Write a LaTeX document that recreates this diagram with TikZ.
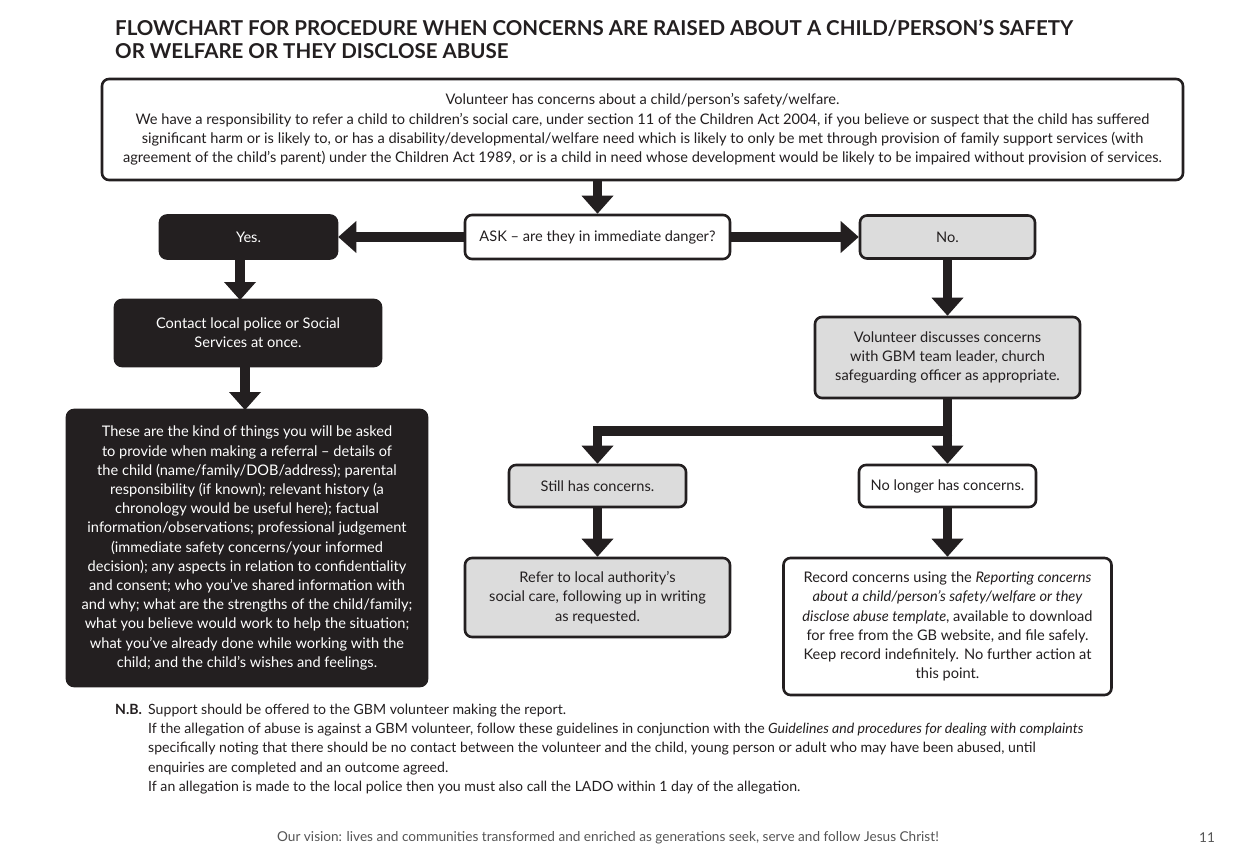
\documentclass[tikz,border=0pt]{standalone}
\usepackage{fontspec}
\setmainfont{Lato}
\definecolor{ink}{HTML}{231F20}
\definecolor{boxgrey}{HTML}{DCDCDC}
\definecolor{footgrey}{HTML}{555555}
\newcommand{\bodyfs}{\fontsize{14.6}{19.2}\selectfont}
% arrow heads (tip at the given anchor)
\newcommand{\headdown}[1]{\fill[ink] (#1) -- ++(-16,-18) -- ++(32,0) -- cycle;}
\newcommand{\headleft}[1]{\fill[ink] (#1) -- ++(18,-16) -- ++(0,32) -- cycle;}
\newcommand{\headright}[1]{\fill[ink] (#1) -- ++(-18,-16) -- ++(0,32) -- cycle;}
\tikzset{
  box/.style={draw=ink, line width=2.6pt, rounded corners=7pt, align=center, inner sep=0pt, font=\bodyfs, text=ink},
  whitebox/.style={box, fill=white},
  greybox/.style={box, fill=boxgrey},
  blackbox/.style={box, fill=ink, text=white},
  shaft/.style={draw=ink, line width=9.5pt, line join=miter},
}
\begin{document}
\begin{tikzpicture}[x=1pt,y=-1pt]
\useasboundingbox[fill=white] (0,0) rectangle (1254,864);

\node[anchor=north west, align=left, font=\fontsize{20.5}{23}\selectfont\bfseries, text=ink, inner sep=0pt] (title) at (115,19)
  {FLOWCHART FOR PROCEDURE WHEN CONCERNS ARE RAISED ABOUT A CHILD/PERSON'S SAFETY\\OR WELFARE OR THEY DISCLOSE ABUSE};

\node[whitebox, minimum width=1081pt, minimum height=101pt] (top) at (642.5,129.5)
  {Volunteer has concerns about a child/person's safety/welfare.\\
   We have a responsibility to refer a child to children's social care, under section 11 of the Children Act 2004, if you believe or suspect that the child has suffered\\
   significant harm or is likely to, or has a disability/developmental/welfare need which is likely to only be met through provision of family support services (with\\
   agreement of the child's parent) under the Children Act 1989, or is a child in need whose development would be likely to be impaired without provision of services.};

\node[whitebox, minimum width=265pt, minimum height=44pt] (ask) at (597.5,237) {ASK -- are they in immediate danger?};
\node[blackbox, minimum width=177pt, minimum height=43pt] (yes) at (248.5,237) {Yes.};
\node[greybox, minimum width=175pt, minimum height=43pt] (no) at (947.5,237) {No.};

\node[blackbox, minimum width=266pt, minimum height=66pt] (contact) at (248,333)
  {Contact local police or Social\\Services at once.};

\node[blackbox, minimum width=360pt, minimum height=276pt] (details) at (247,548)
  {These are the kind of things you will be asked\\
   to provide when making a referral -- details of\\
   the child (name/family/DOB/address); parental\\
   responsibility (if known); relevant history (a\\
   chronology would be useful here); factual\\
   information/observations; professional judgement\\
   (immediate safety concerns/your informed\\
   decision); any aspects in relation to confidentiality\\
   and consent; who you've shared information with\\
   and why; what are the strengths of the child/family;\\
   what you believe would work to help the situation;\\
   what you've already done while working with the\\
   child; and the child's wishes and feelings.};

\node[greybox, minimum width=265pt, minimum height=81pt] (vol) at (947.5,357.5)
  {Volunteer discusses concerns\\with GBM team leader, church\\safeguarding officer as appropriate.};

\node[greybox, minimum width=177pt, minimum height=42pt] (still) at (597.5,486) {Still has concerns.};
\node[whitebox, minimum width=177pt, minimum height=42pt] (nolonger) at (947.5,486) {No longer has concerns.};

\node[greybox, minimum width=265pt, minimum height=79pt] (refer) at (597.5,597.5)
  {Refer to local authority's\\social care, following up in writing\\as requested.};

\node[whitebox, minimum width=328pt, minimum height=137pt] (record) at (947.5,626.5)
  {Record concerns using the \textit{Reporting concerns}\\
   \textit{about a child/person's safety/welfare or they}\\
   \textit{disclose abuse template}, available to download\\
   for free from the GB website, and file safely.\\
   Keep record indefinitely. No further action at\\
   this point.};

\coordinate (br) at (947.5,431);
\coordinate (yesout) at (240,258);
\coordinate (contactin) at (240,300);
\coordinate (contactout) at (245,366);
\coordinate (detailsin) at (245,410);

% shafts
\draw[shaft] (ask |- top.south) -- ([yshift=17pt]ask.north);
\draw[shaft] (ask.west) -- ([xshift=17pt]yes.east);
\draw[shaft] (ask.east) -- ([xshift=-17pt]no.west);
\draw[shaft] (yesout) -- ([yshift=17pt]contactin);
\draw[shaft] (contactout) -- ([yshift=17pt]detailsin);
\draw[shaft] (no.south) -- ([yshift=17pt]vol.north);
\draw[shaft] (vol.south) -- ([yshift=17pt]nolonger.north);
\draw[shaft] ([xshift=4.75pt]br) -| ([yshift=17pt]still.north);
\draw[shaft] (still.south) -- ([yshift=17pt]refer.north);
\draw[shaft] (nolonger.south) -- ([yshift=17pt]record.north);
% heads
\headdown{ask.north}
\headleft{yes.east}
\headright{no.west}
\headdown{contactin}
\headdown{detailsin}
\headdown{vol.north}
\headdown{nolonger.north}
\headdown{still.north}
\headdown{refer.north}
\headdown{record.north}

\node[anchor=north west, inner sep=0pt, font=\fontsize{14.1}{19.2}\selectfont\bfseries, text=ink] (nb) at (115,704) {N.B.};
\node[anchor=north west, inner sep=0pt, align=left, font=\fontsize{14.1}{19.2}\selectfont, text=ink] (nbtext) at (148,704)
  {Support should be offered to the GBM volunteer making the report.\\
   If the allegation of abuse is against a GBM volunteer, follow these guidelines in conjunction with the \textit{Guidelines and procedures for dealing with complaints}\\
   specifically noting that there should be no contact between the volunteer and the child, young person or adult who may have been abused, until\\
   enquiries are completed and an outcome agreed.\\
   If an allegation is made to the local police then you must also call the LADO within 1 day of the allegation.};

\node[font=\fontsize{13.6}{15}\selectfont, text=footgrey, inner sep=0pt] (foot) at (608,838)
  {Our vision: lives and communities transformed and enriched as generations seek, serve and follow Jesus Christ!};
\node[font=\fontsize{13.6}{15}\selectfont, text=footgrey, inner sep=0pt] (page) at (1207,838) {11};
\end{tikzpicture}
\end{document}
